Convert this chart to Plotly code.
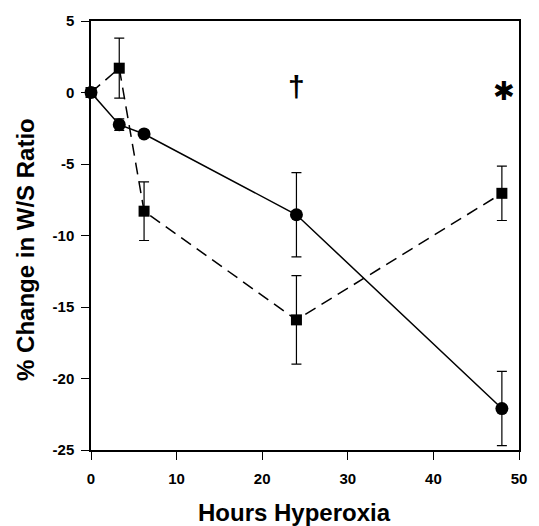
import plotly.graph_objects as go

hours = [0, 3.3, 6.2, 24, 48]
circle_vals = [0, -2.25, -2.9, -8.55, -22.1]
circle_err = [0, 0.4, 0.2, 2.95, 2.6]
square_vals = [0, 1.7, -8.3, -15.9, -7.05]
square_err = [0, 2.1, 2.05, 3.1, 1.9]

x_ticks = [0, 10, 20, 30, 40, 50]
x_tick_labels = ["0", "10", "20", "30", "40", "50"]
y_ticks = [5, 0, -5, -10, -15, -20, -25]
y_tick_labels = ["5", "0", "-5", "-10", "-15", "-20", "-25"]

FONT = "Liberation Sans, Arial, sans-serif"

fig = go.Figure()
fig.add_trace(go.Scatter(
    x=hours, y=square_vals, mode="lines+markers",
    line=dict(color="black", width=1.5, dash="12px,7px"),
    marker=dict(symbol="square", size=11, color="black"),
    error_y=dict(type="data", array=square_err, color="black", thickness=1.2, width=5),
    cliponaxis=False, showlegend=False))
fig.add_trace(go.Scatter(
    x=hours, y=circle_vals, mode="lines+markers",
    line=dict(color="black", width=1.5),
    marker=dict(symbol="circle", size=13, color="black"),
    error_y=dict(type="data", array=circle_err, color="black", thickness=1.2, width=5),
    cliponaxis=False, showlegend=False))

fig.add_annotation(x=24, y=0.4, text="†", showarrow=False,
                   font=dict(family=FONT, size=30, color="black", weight="bold"))
fig.add_annotation(x=48.2, y=0.1, text="✱", showarrow=False,
                   font=dict(family="DejaVu Sans", size=26, color="black"))

fig.add_annotation(xref="paper", yref="paper", x=(296 - 91) / 432, y=-(513 - 450) / 434,
                   text="Hours Hyperoxia", showarrow=False, xanchor="center", yanchor="middle",
                   font=dict(family=FONT, size=24, color="black", weight="bold"))
fig.add_annotation(xref="paper", yref="paper", x=-(91 - 25) / 432, y=(450 - 247) / 434,
                   text="% Change in W/S Ratio", showarrow=False, textangle=-90,
                   xanchor="center", yanchor="middle",
                   font=dict(family=FONT, size=24, color="black", weight="bold"))

fig.update_layout(
    width=539, height=526,
    margin=dict(l=91, r=16, t=16, b=76),
    paper_bgcolor="white", plot_bgcolor="white",
    font=dict(family=FONT, color="black"),
    xaxis=dict(range=[0, 50], tickvals=x_ticks, ticktext=x_tick_labels, ticks="outside",
               ticklen=8, tickwidth=1.2, tickcolor="black", showline=True, linecolor="black",
               linewidth=1.5, mirror=True, showgrid=False, zeroline=False,
               ticklabelstandoff=6,
               tickfont=dict(size=15, weight="bold")),
    yaxis=dict(range=[-25, 5], tickvals=y_ticks, ticktext=y_tick_labels, ticks="outside",
               ticklen=8, tickwidth=1.2, tickcolor="black", showline=True, linecolor="black",
               linewidth=1.5, mirror=True, showgrid=False, zeroline=False,
               ticklabelstandoff=4,
               tickfont=dict(size=15, weight="bold")),
)

fig.write_html("out.html", config={"displayModeBar": False},
               post_script="document.body.style.margin='0';document.body.style.overflow='hidden';")
